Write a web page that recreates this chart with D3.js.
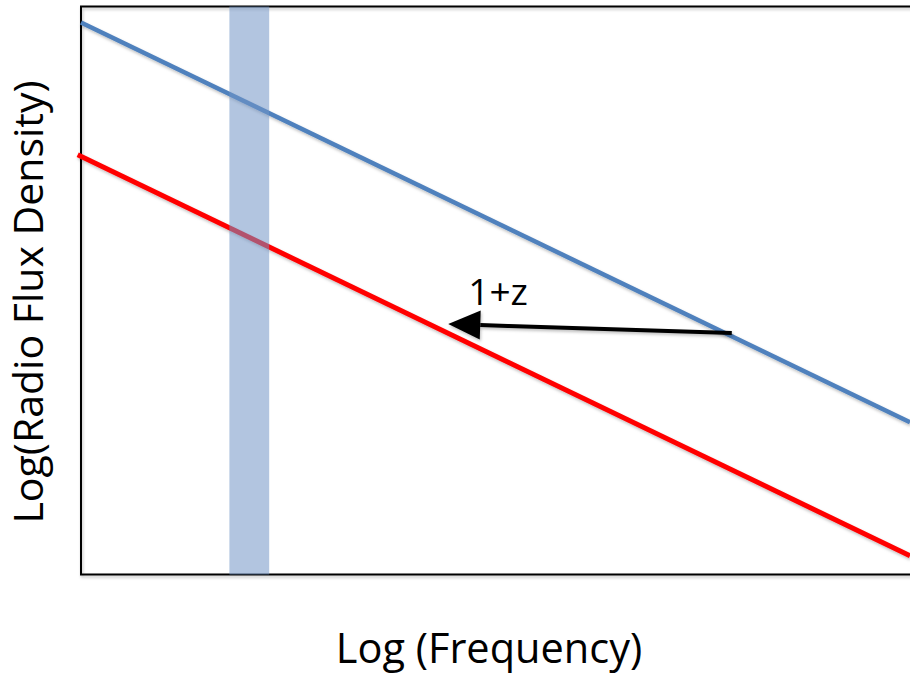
<!DOCTYPE html>
<html><head><meta charset="utf-8">
<script src="https://cdn.jsdelivr.net/npm/d3@7"></script>
<style>body{margin:0;background:#fff}svg{display:block}</style>
</head><body>
<script>
// Data (arbitrary log units)
const blueFreq = [0, 10];
const blueFlux = [9.72, 2.68];
const redFreq = [-0.04, 10];
const redFlux = [7.39, 0.33];
const bandRange = [1.79, 2.27];
const arrowFrom = [7.85, 4.25];
const arrowTo = [4.43, 4.41];
const arrowLabel = "1+z";
const xTitle = "Log (Frequency)";
const yTitle = "Log(Radio Flux Density)";

const W = 910, H = 678;
const svg = d3.select("body").append("svg").attr("width", W).attr("height", H);
const x = d3.scaleLinear().domain([0, 10]).range([81, 910]);
const y = d3.scaleLinear().domain([0, 10]).range([574.5, 6.5]);

const defs = svg.append("defs");
const f = defs.append("filter").attr("id", "sh").attr("filterUnits", "userSpaceOnUse")
  .attr("x", 0).attr("y", 0).attr("width", W).attr("height", H);
f.append("feDropShadow").attr("dx", 1).attr("dy", 2).attr("stdDeviation", 1.5).attr("flood-color", "#000").attr("flood-opacity", 0.25);

// plot frame (top, left, bottom)
const [x0, x1] = x.range(), [yb, yt] = y.range();
svg.append("path").attr("d", `M${x1+2},${yt} L${x0},${yt} L${x0},${yb} L${x1+2},${yb}`)
  .attr("fill", "none").attr("stroke", "#000").attr("stroke-width", 2).attr("filter", "url(#sh)");

const line = (xs, ys) => d3.line().x(d => x(d[0])).y(d => y(d[1]))(xs.map((v, i) => [v, ys[i]]));
svg.append("path").attr("d", line(blueFreq, blueFlux)).attr("fill", "none").attr("stroke", "#4f81bd").attr("stroke-width", 4.5).attr("filter", "url(#sh)");
svg.append("path").attr("d", line(redFreq, redFlux)).attr("fill", "none").attr("stroke", "#ff0000").attr("stroke-width", 5).attr("filter", "url(#sh)");

// band (on top of lines, translucent)
svg.append("rect").attr("x", x(bandRange[0])).attr("y", yt).attr("width", x(bandRange[1]) - x(bandRange[0]))
  .attr("height", yb - yt).attr("fill", "#7396c6").attr("opacity", 0.55);

// arrow
const ax1 = x(arrowFrom[0]), ay1 = y(arrowFrom[1]), ax2 = x(arrowTo[0]), ay2 = y(arrowTo[1]);
const ang = Math.atan2(ay1 - ay2, ax1 - ax2);
const hl = 32, hw = 14.5;
const bx = ax2 + hl * Math.cos(ang), by = ay2 + hl * Math.sin(ang);
const px = -Math.sin(ang) * hw, py = Math.cos(ang) * hw;
const g = svg.append("g").attr("filter", "url(#sh)");
g.append("line").attr("x1", ax1).attr("y1", ay1).attr("x2", bx).attr("y2", by)
  .attr("stroke", "#000").attr("stroke-width", 4);
g.append("path").attr("d", `M${ax2},${ay2} L${bx + px},${by + py} L${bx - px},${by - py} Z`).attr("fill", "#000");

svg.append("text").attr("x", ax2 + 20).attr("y", 305)
  .attr("font-family", "Open Sans, sans-serif").attr("font-size", 37).attr("fill", "#000").text(arrowLabel);

svg.append("text").attr("x", 489).attr("y", 663).attr("text-anchor", "middle")
  .attr("font-family", "Open Sans, sans-serif").attr("font-size", 41.5).attr("fill", "#000").text(xTitle);
svg.append("text").attr("transform", "translate(43,302) rotate(-90)").attr("text-anchor", "middle")
  .attr("font-family", "Open Sans, sans-serif").attr("font-size", 41).attr("fill", "#000").text(yTitle);
</script>
</body></html>
